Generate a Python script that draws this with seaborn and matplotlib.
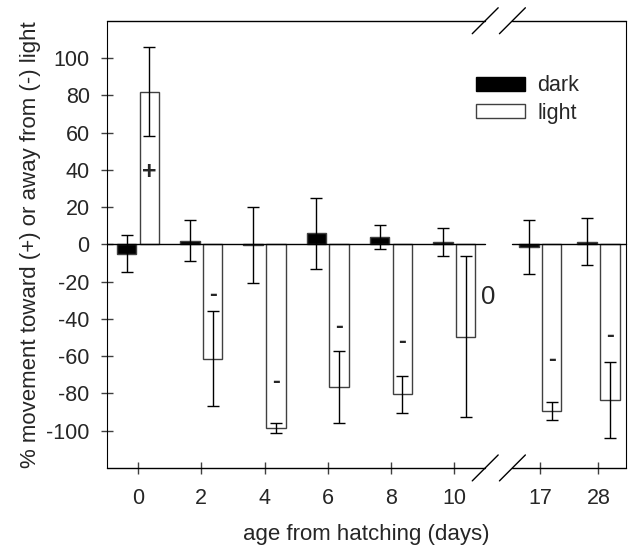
import matplotlib
matplotlib.use("Agg")
from matplotlib import pyplot as plt
from matplotlib.patches import Patch
import pandas as pd
import seaborn as sns
import numpy as np

# values (% movement), one entry per age
days = ["0", "2", "4", "6", "8", "10", "17", "28"]
dark = [-5, 2, -0.5, 6, 4, 1, -1.5, 1.5]
dark_err = [10, 11, 20.5, 19, 6.5, 7.5, 14.3, 12.5]
light = [82, -61.5, -98.5, -76.5, -80.5, -49.5, -89.5, -83.5]
light_err = [24, 25.5, 2.5, 19.5, 10, 43, 5, 20.5]
signs = ["+", "-", "-", "-", "-", "0", "-", "-"]
sign_y = [39, -27, -73.5, -44, -52, -28, -62, -49]

# x axis is broken between 10 and 17 days
slot = [0, 1, 2, 3, 4, 5, 6.36, 7.28]
brk = (5.49, 5.92)
xlo, xhi = -0.49, 7.72

df = pd.DataFrame({
    "pos": slot * 2,
    "cond": ["dark"] * len(days) + ["light"] * len(days),
    "val": dark + light,
    "err": dark_err + light_err,
})

sns.set_style("ticks")
plt.rcParams["font.family"] = ["Liberation Sans", "DejaVu Sans"]
plt.rcParams["axes.unicode_minus"] = False

fig = plt.figure(figsize=(6.3, 5.46), dpi=100)
ax = fig.add_axes([0.170, 0.143, 0.824, 0.819])

native = np.min(np.diff(slot))
sns.barplot(data=df, x="pos", y="val", hue="cond", native_scale=True,
            palette={"dark": "black", "light": "white"}, saturation=1,
            width=0.72 / native, gap=0.14, edgecolor="#404040", linewidth=1,
            errorbar=None, legend=False, ax=ax, zorder=2)

# error bars on top of the bars, at the bar centres
for cont, cond in zip(ax.containers, ["dark", "light"]):
    sub = df[df["cond"] == cond]
    xc = [p.get_x() + p.get_width() / 2 for p in cont.patches]
    ax.errorbar(xc, sub["val"], yerr=sub["err"], fmt="none", ecolor="black",
                elinewidth=1, capsize=4.5, capthick=1, zorder=4)
    if cond == "light":
        for x, s, y in zip(xc, signs, sign_y):
            if s == "0":
                ax.text(x + 0.35, y, s, fontsize=18.5, ha="center", va="center")
            elif s == "+":
                ax.text(x, y, s, fontsize=18, fontweight="bold", ha="center", va="center")
            else:
                ax.text(x, y, s, fontsize=17, fontweight="bold", ha="center", va="center")

# zero line and broken frame
for y, tr in [(0, ax.transData), (0, ax.get_xaxis_transform()), (1, ax.get_xaxis_transform())]:
    ax.plot([xlo, brk[0]], [y, y], color="black", lw=1, transform=tr, clip_on=False, zorder=3)
    ax.plot([brk[1], xhi], [y, y], color="black", lw=1, transform=tr, clip_on=False, zorder=3)
for b in brk:
    for y in (0, 1):
        ax.plot([b - 0.205, b + 0.205], [y - 0.029, y + 0.029], color="black", lw=1,
                transform=ax.get_xaxis_transform(), clip_on=False, zorder=3)
ax.spines["top"].set_visible(False)
ax.spines["bottom"].set_visible(False)
ax.spines["left"].set_color("black")
ax.spines["right"].set_color("black")

ax.set_xlim(xlo, xhi)
ax.set_ylim(-120, 120)
ax.set_xticks(slot)
ax.set_xticklabels(days)
ax.set_yticks(np.arange(-100, 101, 20))
ax.tick_params(axis="both", direction="inout", length=9, width=1, color="#404040", labelsize=15.5)
ax.tick_params(axis="x", pad=10)
ax.tick_params(axis="y", pad=8)
ax.set_xlabel("age from hatching (days)", fontsize=16, labelpad=11)
ax.set_ylabel("% movement toward (+) or away from (-) light", fontsize=16, labelpad=4)

handles = [Patch(facecolor="black", edgecolor="black"),
           Patch(facecolor="white", edgecolor="#404040", linewidth=1)]
ax.legend(handles, ["dark", "light"], loc="upper left", bbox_to_anchor=(0.711, 0.878),
          frameon=False, fontsize=15.5, handlelength=2.25, handleheight=0.6,
          handletextpad=0.6, labelspacing=0.3, borderaxespad=0, borderpad=0)

fig.savefig("out.png", dpi=100)
